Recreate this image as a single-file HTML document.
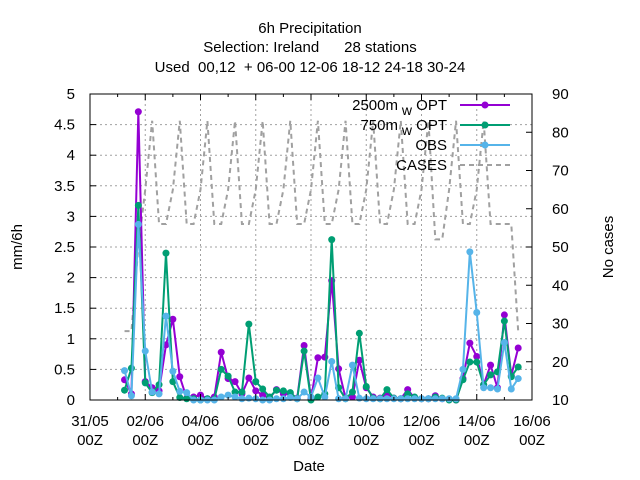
<!DOCTYPE html>
<html><head><meta charset="utf-8"><style>
body{margin:0;background:#fff;}
svg{display:block;font-family:"Liberation Sans",sans-serif;}
.pre{white-space:pre;}
</style></head><body>
<svg id="chart" width="640" height="480" viewBox="0 0 640 480" xmlns="http://www.w3.org/2000/svg">
<rect width="640" height="480" fill="#fff"/>
<g font-size="15" text-anchor="middle" fill="#000" class="pre">
<text x="310" y="33">6h Precipitation</text>
<text x="310" y="52" xml:space="preserve">Selection: Ireland      28 stations</text>
<text x="310" y="72" xml:space="preserve">Used  00,12  + 06-00 12-06 18-12 24-18 30-24</text>
</g>
<g id="grid"></g>
<g id="series"></g>
<rect x="90" y="94" width="442" height="306" fill="none" stroke="#000" stroke-width="1"/>
<g id="axes" font-size="15" fill="#000"></g>
<text x="22" y="247" font-size="15" text-anchor="middle" transform="rotate(-90 22 247)">mm/6h</text>
<text x="613" y="247" font-size="15" text-anchor="middle" transform="rotate(-90 613 247)">No cases</text>
<text x="309" y="471" font-size="15" text-anchor="middle">Date</text>
<g id="legend" font-size="15"></g>
</svg>
<script>
const startDay = 1.25;
const stepDay = 0.25;
const opt2500 = [0.33,0.1,4.71,0.3,0.2,0.15,0.9,1.32,0.38,0.03,0.05,0.08,0.02,0.05,0.78,0.35,0.3,0.1,0.36,0.15,0.08,0.03,0.17,0.1,0.1,0.03,0.89,0.02,0.69,0.7,1.95,0.51,0.03,0.05,0.65,0.2,0.05,0.03,0.1,0.03,0.02,0.17,0.03,0.02,0.02,0.07,0.02,0.01,0,0.35,0.93,0.71,0.25,0.57,0.2,1.39,0.4,0.85];
const opt750 = [0.16,0.52,3.18,0.28,0.12,0.25,2.4,0.3,0.04,0.02,0.02,0,0.02,0.01,0.5,0.39,0.13,0.13,1.24,0.3,0.18,0.05,0.16,0.15,0.12,0.02,0.8,0,0.05,0.1,2.62,0.2,0.02,0.13,1.09,0.22,0.03,0.02,0.17,0.03,0.02,0.1,0.05,0.02,0.02,0.05,0.03,0,0,0.33,0.62,0.62,0.25,0.41,0.46,1.29,0.38,0.54];
const obs = [0.48,0.07,2.87,0.8,0.13,0.1,1.37,0.47,0.14,0.12,0,0,0,0,0.05,0.08,0.05,0.02,0.03,0.02,0,0,0.02,0.02,0.04,0.02,0.13,0.05,0.36,0.05,0.63,0.02,0.02,0.57,0.03,0.02,0.02,0.02,0.02,0.02,0.02,0.02,0.02,0.02,0.02,0.02,0.02,0.02,0.02,0.5,2.42,1.43,0.2,0.2,0.18,0.94,0.18,0.35];
const cases = [28,28,50,65,83,56,56,65,83,56,56,65,83,56,56,65,83,56,56,65,83,56,56,65,83,56,56,65,83,56,56,65,83,56,56,65,83,56,56,65,83,56,56,65,83,52,52,65,83,56,56,65,83,56,56,56,56,28];
const yTicks = ["0","0.5","1","1.5","2","2.5","3","3.5","4","4.5","5"];
const y2Ticks = ["10","20","30","40","50","60","70","80","90"];
const xTickDates = ["31/05","02/06","04/06","06/06","08/06","10/06","12/06","14/06","16/06"];

const NS="http://www.w3.org/2000/svg";
const L=90,R=532,T=94,B=400;
const xs=d=>L+d*(R-L)/16;
const ys=v=>B-v*(B-T)/5;
const y2s=v=>B-(v-10)*(B-T)/80;
function mk(tag,attrs,parent){const e=document.createElementNS(NS,tag);for(const k in attrs)e.setAttribute(k,attrs[k]);parent.appendChild(e);return e;}
const grid=document.getElementById('grid'),axes=document.getElementById('axes'),ser=document.getElementById('series'),leg=document.getElementById('legend');

yTicks.forEach((t,i)=>{const v=parseFloat(t);const y=ys(v);
 if(i>0&&i<yTicks.length-1){const g=mk('line',{x1:L,x2:R,y1:y,y2:y,stroke:'#a0a0a0','stroke-dasharray':'2,3'},grid);
 
 }
 mk('line',{x1:L,x2:L+6,y1:y,y2:y,stroke:'#000'},axes);
 const tx=mk('text',{x:75,y:y+5,'text-anchor':'end'},axes);tx.textContent=t;
 
 
});
y2Ticks.forEach(t=>{const y=y2s(parseFloat(t));
 mk('line',{x1:R-6,x2:R,y1:y,y2:y,stroke:'#000'},axes);
 const tx=mk('text',{x:552,y:y+5},axes);tx.textContent=t;
 
 
});
for(let d=0;d<=16;d++){const x=xs(d);mk('line',{x1:x,x2:x,y1:B,y2:B-(d%2?3:6),stroke:'#000'},axes);mk('line',{x1:x,x2:x,y1:T,y2:T+(d%2?3:6),stroke:'#000'},axes);}
xTickDates.forEach((t,i)=>{const x=xs(i*2);
 if(i>0&&i<xTickDates.length-1){const g=mk('line',{x1:x,x2:x,y1:T,y2:B,stroke:'#a0a0a0','stroke-dasharray':'2,3'},grid);
 
 }
 const tx=mk('text',{x:x,y:426,'text-anchor':'middle'},axes);tx.textContent=t;
 
 
 const tz=mk('text',{x:x,y:445,'text-anchor':'middle'},axes);tz.textContent='00Z';
 
 
});

function pts(arr,yf){return arr.map((v,i)=>[xs(startDay+i*stepDay),yf(v)]);}
const cp=mk('polyline',{points:pts(cases,y2s).map(p=>p.join(',')).join(' '),fill:'none',stroke:'#a0a0a0','stroke-width':2,'stroke-dasharray':'5,4'},ser);


function series(arr,color,name){
 const p=pts(arr,ys);
 const pl=mk('polyline',{points:p.map(q=>q.join(',')).join(' '),fill:'none',stroke:color,'stroke-width':2},ser);
 
 
 p.forEach(q=>{const c=mk('circle',{cx:q[0],cy:q[1],r:3.5,fill:color},ser);
  
  });
}
series(opt2500,'#9400d3','opt-2500m');
series(opt750,'#009e73','opt-750m');
series(obs,'#56b4e9','obs');

const legendItems=[["2500m","w OPT","#9400d3",false],["750m","w OPT","#009e73",false],["OBS","","#56b4e9",false],["CASES","","#a0a0a0",true]];
legendItems.forEach((it,i)=>{const y=105+i*20;
 const tx=mk('text',{x:447,y:y+5,'text-anchor':'end'},leg);
 if(it[1]){tx.textContent=it[0];const ts=mk('tspan',{dy:5,'font-size':14},tx);ts.textContent=' w';const ts2=mk('tspan',{dy:-5},tx);ts2.textContent=' OPT';}
 else tx.textContent=it[0];
 
 
 const ln=mk('line',{x1:460,x2:510,y1:y,y2:y,stroke:it[2],'stroke-width':2},leg);
 if(it[3])ln.setAttribute('stroke-dasharray','5,4');
 
 
 if(!it[3]){const c=mk('circle',{cx:485,cy:y,r:3.5,fill:it[2]},leg);
  
  }
});
</script>
</body></html>
